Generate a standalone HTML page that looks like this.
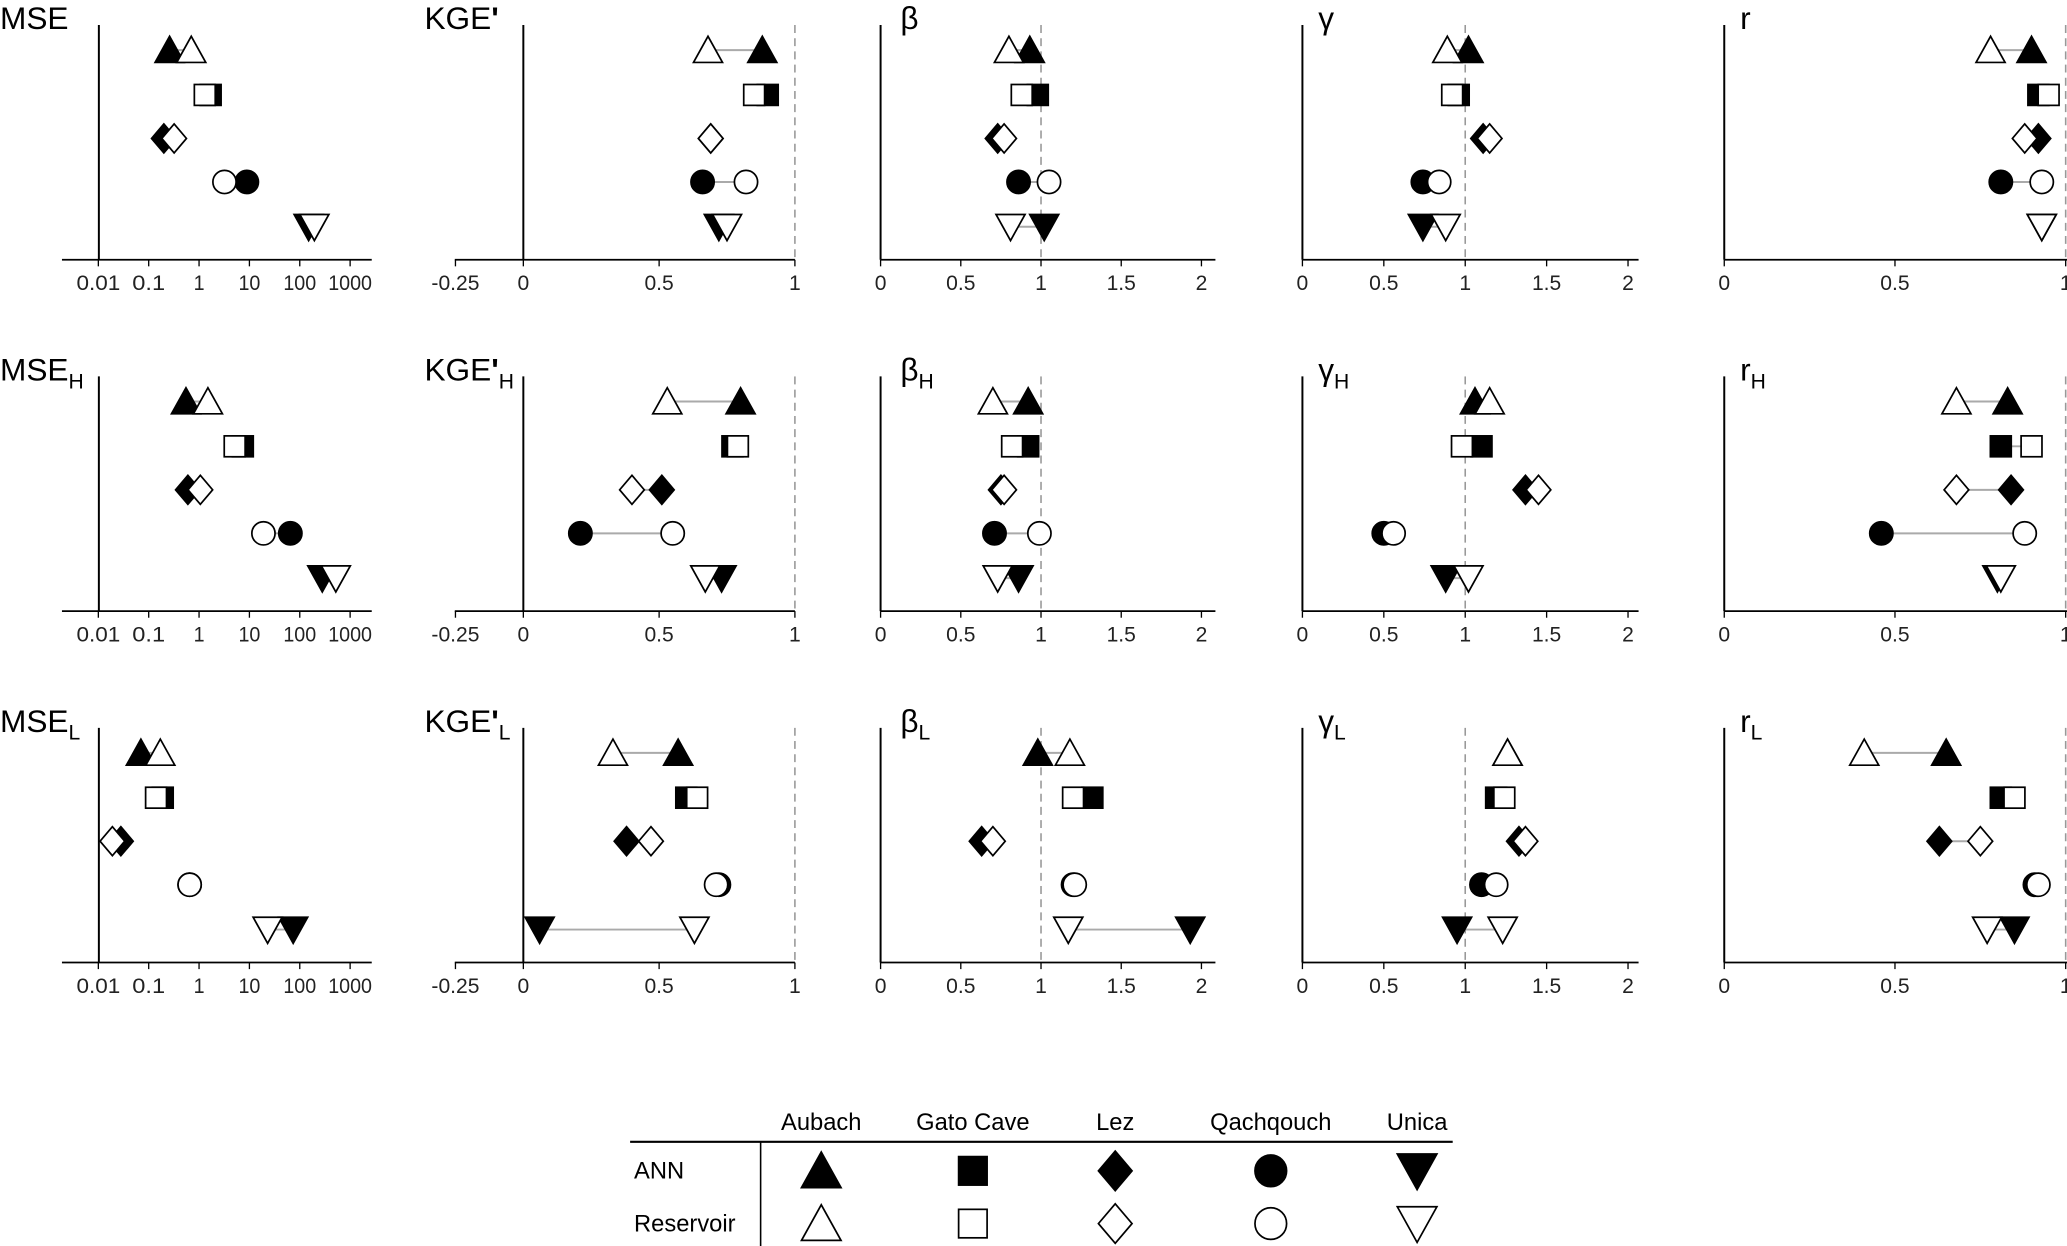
<!DOCTYPE html>
<html><head><meta charset="utf-8"><style>
html,body{margin:0;padding:0;background:#fff}
svg{display:block}
text{font-family:"Liberation Sans",sans-serif}
</style></head><body>
<svg id="chart" width="2067" height="1246" viewBox="0 0 1568 945" preserveAspectRatio="none" xmlns="http://www.w3.org/2000/svg"></svg>
<script>
const stations = ["Aubach","Gato Cave","Lez","Qachqouch","Unica"];
const shapes = ["triUp","square","diamond","circle","triDown"];
const rowNames = ["all","H","L"];
// [row][station] values
const mseAnn = [[0.26,1.7,0.2,8.9,150],[0.55,7.4,0.6,65,280],[0.07,0.19,0.028,0.65,74]];
const mseRes = [[0.7,1.3,0.32,3.2,195],[1.5,5.1,1.06,19,520],[0.17,0.14,0.019,0.65,23]];
const kgeAnn = [[0.88,0.9,0.69,0.66,0.72],[0.80,0.77,0.51,0.21,0.73],[0.57,0.60,0.38,0.72,0.06]];
const kgeRes = [[0.68,0.85,0.69,0.82,0.75],[0.53,0.79,0.40,0.55,0.67],[0.33,0.64,0.47,0.71,0.63]];
const betaAnn = [[0.93,0.98,0.73,0.86,1.02],[0.92,0.92,0.75,0.71,0.86],[0.98,1.32,0.63,1.20,1.93]];
const betaRes = [[0.80,0.88,0.77,1.05,0.81],[0.70,0.82,0.77,0.99,0.73],[1.18,1.20,0.70,1.21,1.17]];
const gammaAnn = [[1.02,0.96,1.11,0.74,0.74],[1.06,1.10,1.37,0.50,0.88],[1.26,1.19,1.33,1.10,0.95]];
const gammaRes = [[0.89,0.92,1.15,0.84,0.88],[1.15,0.98,1.45,0.56,1.02],[1.26,1.24,1.37,1.19,1.23]];
const rAnn = [[0.90,0.92,0.92,0.81,0.93],[0.83,0.81,0.84,0.46,0.80],[0.65,0.81,0.63,0.91,0.85]];
const rRes = [[0.78,0.95,0.88,0.93,0.93],[0.68,0.90,0.68,0.88,0.81],[0.41,0.85,0.75,0.92,0.77]];
const mseTicks = [0.01,0.1,1,10,100,1000];
const mseTickLabels = ["0.01","0.1","1","10","100","1000"];
const kgeTicks = [-0.25,0,0.5,1];
const kgeTickLabels = ["-0.25","0","0.5","1"];
const bgTicks = [0,0.5,1,1.5,2];
const bgTickLabels = ["0","0.5","1","1.5","2"];
const rTicks = [0,0.5,1];
const rTickLabels = ["0","0.5","1"];

const NS="http://www.w3.org/2000/svg";
const svg=document.getElementById('chart');
function el(tag,attrs,parent){const e=document.createElementNS(NS,tag);for(const k in attrs)e.setAttribute(k,attrs[k]);(parent||svg).appendChild(e);return e;}

function marker(shape,cx,cy,s,filled,parent){
  const f=filled?"#000":"#fff";const st={fill:f,stroke:"#000","stroke-width":1.3};
  let e;
  if(shape==="triUp"){e=el("polygon",Object.assign({points:`${cx-s},${cy+s*0.85} ${cx+s},${cy+s*0.85} ${cx},${cy-s*0.95}`},st),parent);}
  else if(shape==="triDown"){e=el("polygon",Object.assign({points:`${cx-s},${cy-s*0.85} ${cx+s},${cy-s*0.85} ${cx},${cy+s*0.95}`},st),parent);}
  else if(shape==="square"){const h=s*0.72;e=el("rect",Object.assign({x:cx-h,y:cy-h,width:2*h,height:2*h},st),parent);}
  else if(shape==="diamond"){const w=s*0.85;e=el("polygon",Object.assign({points:`${cx},${cy-s} ${cx+w},${cy} ${cx},${cy+s} ${cx-w},${cy}`},st),parent);}
  else {e=el("circle",Object.assign({cx:cx,cy:cy,r:s*0.8},st),parent);}
  return e;
}

const rowAxisY=[197,463.5,730];
const rowOffsets=[-159,-125,-92,-59,-25];
const panels=[
 {key:"mse",title:"MSE",tx:0,ann:mseAnn,res:mseRes,x0:75,x1:282,axL:47,vx:75,dash:null,
  scale:v=>151+38.2*Math.log10(v),ticks:mseTicks,labels:mseTickLabels},
 {key:"kge",title:"KGE",prime:true,tx:322,ann:kgeAnn,res:kgeRes,axL:345,x1:603,vx:397,dash:1,
  scale:v=>397+206*v,ticks:kgeTicks,labels:kgeTickLabels},
 {key:"beta",title:"β",tx:683,ann:betaAnn,res:betaRes,axL:668,x1:922,vx:668,dash:1,
  scale:v=>668+121.7*v,ticks:bgTicks,labels:bgTickLabels},
 {key:"gamma",title:"γ",tx:1000,ann:gammaAnn,res:gammaRes,axL:988,x1:1243,vx:988,dash:1,
  scale:v=>988+123.5*v,ticks:bgTicks,labels:bgTickLabels},
 {key:"r",title:"r",tx:1320,ann:rAnn,res:rRes,axL:1308,x1:1568,vx:1308,dash:1,
  scale:v=>1308+259*v,ticks:rTicks,labels:rTickLabels}
];

panels.forEach(p=>{
  rowNames.forEach((rn,ri)=>{
    const ay=rowAxisY[ri];
    const g=el("g",{});
    
    
    const t=el("text",{x:p.tx,y:ay-175,"font-size":24,fill:"#000"},g);
    
    
    t.textContent=p.title;
    if(p.prime){const pr=el("tspan",{"font-weight":"bold"},t);pr.textContent="'";}
    if(rn!=="all"){const sb=el("tspan",{"font-size":16,dy:6},t);sb.textContent=rn;}
    const xa=el("line",{x1:p.axL,y1:ay,x2:p.x1,y2:ay,stroke:"#000","stroke-width":1.3},g);
    
    
    const ya=el("line",{x1:p.vx,y1:ay-178,x2:p.vx,y2:ay,stroke:"#000","stroke-width":1.5},g);
    
    
    if(p.dash!==null){
      const dx=p.scale(p.dash);
      const dl=el("line",{x1:dx,y1:ay-178,x2:dx,y2:ay,stroke:"#999","stroke-width":1.2,"stroke-dasharray":"6,4"},g);
      
      
    }
    p.ticks.forEach((tv,i)=>{
      const x=p.scale(tv);
      el("line",{x1:x,y1:ay,x2:x,y2:ay+5,stroke:"#000","stroke-width":1},g);
      const tl=el("text",{x:x,y:ay+23,"font-size":16,"text-anchor":"middle",fill:"#222"},g);
      if(p.key==="mse"){tl.setAttribute("textLength",p.labels[i].length*8.3);tl.setAttribute("lengthAdjust","spacingAndGlyphs");}
      
      
      tl.textContent=p.labels[i];
    });
    stations.forEach((s,si)=>{
      const cy=ay+rowOffsets[si];
      const xa2=p.scale(p.ann[ri][si]), xr=p.scale(p.res[ri][si]);
      const ln=el("line",{x1:xa2,y1:cy,x2:xr,y2:cy,stroke:"#aaa","stroke-width":1.5},g);
      
      
      const ma=marker(shapes[si],xa2,cy,11,true,g);
      
      
      const mr=marker(shapes[si],xr,cy,11,false,g);
      
      
    });
  });
});

const lg=el("g",{});


const colX=[623,738,846,964,1075];
el("line",{x1:478,y1:866,x2:1102,y2:866,stroke:"#000","stroke-width":1.6},lg);
el("line",{x1:577,y1:866,x2:577,y2:945,stroke:"#000","stroke-width":1.2},lg);
stations.forEach((s,i)=>{
  const h=el("text",{x:colX[i],y:857,"font-size":18,"text-anchor":"middle",fill:"#000"},lg);
  
  
  h.textContent=s;
  const a=marker(shapes[i],colX[i],888,15,true,lg);
  
  
  const r=marker(shapes[i],colX[i],928,15,false,lg);
  
  
});
[["ANN",894],["Reservoir",934]].forEach(([t,y])=>{
  const e=el("text",{x:481,y:y,"font-size":18,fill:"#000"},lg);
  
  
  e.textContent=t;
});
</script>
</body></html>
